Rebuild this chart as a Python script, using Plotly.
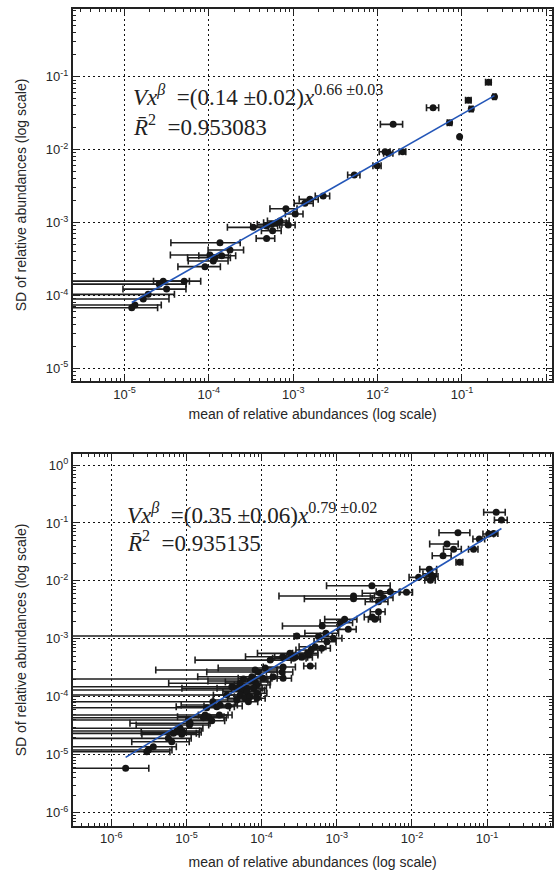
import plotly.graph_objects as go

# ---- panel 1: mean vs SD of relative abundances, with SE of the mean ----
top_mean = [0.2065, 0.243, 0.1194, 0.129, 0.0455, 0.0714, 0.0938, 0.0153, 0.01227, 0.01349,
            0.0198, 0.00991, 0.0053, 0.002265, 0.001578, 0.001377, 0.00082, 0.001057, 0.000336, 0.000484,
            0.000555, 0.000636, 0.000695, 0.000873, 0.00057, 0.000484, 0.0001355, 0.000178, 0.000103, 0.000142,
            0.000118, 0.000113, 0.00009, 2.88e-5, 2.58e-5, 5.11e-5, 3.16e-5, 1.91e-5, 1.67e-5, 1.33e-5,
            1.22e-5]
top_sd = [0.0838, 0.0532, 0.0474, 0.0361, 0.0376, 0.0234, 0.0150, 0.0222, 0.00936, 0.00889,
          0.00936, 0.00601, 0.00449, 0.002307, 0.00208, 0.001832, 0.001545, 0.00131, 0.000859, 0.000895,
          0.000944, 0.000993, 0.00105, 0.000925, 0.00077, 0.000606, 0.000528, 0.00042, 0.000358, 0.00035,
          0.000329, 0.000296, 0.000248, 0.000157, 0.000143, 0.000157, 0.000122, 0.0001035, 8.93e-5, 7.38e-5,
          6.78e-5]
top_err = [0.016, 0.010, 0.0090, 0.0068, 0.0075, 0.0044, 0.0012, 0.0045, 0.0018, 0.0017,
           0.0018, 0.0011, 0.00088, 0.00044, 0.00040, 0.00035, 0.00029, 0.00025, 0.00017, 0.00017,
           0.00018, 0.00019, 0.00020, 0.00018, 0.00015, 0.00012, 0.000100, 0.000080, 0.000068, 0.000066,
           0.000062, 0.000056, 0.000047, 3.0e-5, 2.8e-5, 2.9e-5, 2.2e-5, 2.0e-5, 1.7e-5, 1.4e-5,
           1.25e-5]
top_V, top_beta = 0.14, 0.66
top_fit_label = ["<i>Vx</i><sup><i>β</i></sup>  =(0.14 ±0.02)<i>x</i><sup>0.66 ±0.03</sup>",
                 "<i>R\u0304</i><sup>2</sup>  =0.953083"]

# ---- panel 2 ----
bottom_mean = [0.132, 0.155, 0.0409, 0.0787, 0.105, 0.122, 0.0292, 0.0358, 0.066, 0.0259,
               0.043, 0.0170, 0.01225, 0.0176, 0.019, 0.0176, 0.00845, 0.00514, 0.00378, 0.00293,
               0.00167, 0.00167, 0.00419, 0.00359, 0.00359, 0.00296, 0.00321, 0.00127, 0.00111, 0.000639,
               0.00142, 0.000716, 0.000294, 0.00057, 0.0009, 0.000738, 0.00063, 0.000515, 0.000443, 0.00042,
               0.000343, 0.000279, 0.00013, 0.000191, 0.000238, 0.000456, 0.000408, 0.000265,
               8.19e-5, 1.114e-4, 1.93e-4, 1.875e-4, 1.93e-4, 1.42e-4, 1.047e-4, 7.41e-5, 9.06e-5, 5.73e-5,
               7.03e-5, 5.18e-5, 8.19e-5, 8.63e-5, 4.01e-5, 4.67e-5, 6.35e-5, 5.44e-5, 6.35e-5, 7.78e-5,
               8.63e-5, 3.44e-5, 5.18e-5, 6.03e-5, 7.03e-5, 8.63e-5, 4.67e-5, 6.67e-5, 2.24e-5, 2.80e-5,
               3.61e-5, 1.86e-5, 2.53e-5, 1.77e-5, 1.96e-5, 2.74e-5, 2.17e-5, 1.68e-5, 1.06e-5, 1.117e-5,
               1.094e-5, 8.22e-6, 7.43e-6, 9.10e-6, 6.70e-6, 8.65e-6, 5.74e-6, 6.37e-6, 3.62e-6, 3.11e-6,
               2.96e-6, 1.55e-6]
bottom_sd = [0.1525, 0.112, 0.0679, 0.0528, 0.0645, 0.0655, 0.0433, 0.0351, 0.0351, 0.0272,
             0.0209, 0.01585, 0.01153, 0.0133, 0.0119, 0.0103, 0.00635, 0.00652, 0.00611, 0.00826,
             0.0055, 0.0049, 0.00513, 0.00438, 0.00294, 0.00238, 0.00217, 0.00217, 0.0019, 0.00167,
             0.00146, 0.00125, 0.00112, 0.0011, 0.00102, 0.00089, 0.000687, 0.00073, 0.00034, 0.000526,
             0.00048, 0.00048, 0.00043, 0.000492, 0.000563, 0.000642, 0.000563, 0.000461,
             2.90e-4, 3.14e-4, 3.27e-4, 2.68e-4, 2.09e-4, 2.22e-4, 2.09e-4, 2.22e-4, 2.68e-4, 2.03e-4,
             1.875e-4, 1.71e-4, 1.80e-4, 1.60e-4, 1.49e-4, 1.40e-4, 1.40e-4, 1.31e-4, 1.225e-4, 1.40e-4,
             1.15e-4, 1.074e-4, 1.074e-4, 9.42e-5, 1.004e-4, 9.42e-5, 8.81e-5, 8.23e-5, 8.23e-5, 7.22e-5,
             6.93e-5, 6.49e-5, 6.75e-5, 4.85e-5, 4.54e-5, 4.85e-5, 3.87e-5, 4.36e-5, 3.98e-5, 3.49e-5,
             3.26e-5, 2.86e-5, 2.57e-5, 2.44e-5, 2.34e-5, 2.25e-5, 1.92e-5, 1.68e-5, 1.377e-5, 1.208e-5,
             1.13e-5, 5.84e-6]
bottom_err = [0.042, 0.030, 0.018, 0.014, 0.017, 0.017, 0.012, 0.0095, 0.0095, 0.0073,
              0.0045, 0.0043, 0.0031, 0.0036, 0.0032, 0.0028, 0.0017, 0.0018, 0.0016, 0.0022,
              0.0015, 0.0013, 0.0014, 0.0012, 0.0008, 0.00064, 0.00058, 0.00058, 0.00051, 0.00045,
              0.00039, 0.00034, 0.00031, 0.0003, 0.00027, 0.00024, 0.00019, 0.0002, 0.00008, 0.00014,
              0.00013, 0.00013, 0.000117, 0.00013, 0.00015, 0.00017, 0.00015, 0.000125,
              7.8e-5, 8.5e-5, 8.8e-5, 7.2e-5, 5.6e-5, 6.0e-5, 5.6e-5, 6.0e-5, 7.2e-5, 6.0e-5,
              5.1e-5, 4.6e-5, 4.9e-5, 4.3e-5, 4.1e-5, 3.8e-5, 3.8e-5, 5.5e-5, 3.3e-5, 3.8e-5,
              3.1e-5, 3.5e-5, 2.9e-5, 2.5e-5, 2.7e-5, 2.5e-5, 2.4e-5, 2.2e-5, 2.3e-5, 1.95e-5,
              1.9e-5, 1.9e-5, 1.8e-5, 1.8e-5, 1.2e-5, 1.3e-5, 1.05e-5, 1.7e-5, 1.1e-5, 9.4e-6,
              8.8e-6, 8.3e-6, 7.5e-6, 6.6e-6, 6.8e-6, 6.1e-6, 5.8e-6, 4.5e-6, 3.7e-6, 3.3e-6,
              3.05e-6, 1.6e-6]
bottom_V, bottom_beta = 0.35, 0.79
bottom_fit_label = ["<i>Vx</i><sup><i>β</i></sup>  =(0.35 ±0.06)<i>x</i><sup>0.79 ±0.02</sup>",
                    "<i>R\u0304</i><sup>2</sup>  =0.935135"]

top_xticks = [-5, -4, -3, -2, -1, 0]
top_yticks = [-5, -4, -3, -2, -1]
bottom_xticks = [-6, -5, -4, -3, -2, -1]
bottom_yticks = [-6, -5, -4, -3, -2, -1, 0]

W, H = 554, 873
SANS = "Liberation Sans, Arial, sans-serif"
SERIF = "Liberation Serif, Times New Roman, serif"
INK = "#262626"
FIT_BLUE = "#2356b8"

fig = go.Figure()


def add_panel(mean, sd, err, V, beta, xa, ya):
    fig.add_trace(go.Scatter(
        x=mean, y=sd, mode="markers", xaxis=xa, yaxis=ya,
        marker=dict(color="#161616", size=7, line=dict(width=0)),
        error_x=dict(type="data", array=err, symmetric=True, color="#1e1e1e",
                     thickness=1.6, width=3.5),
        showlegend=False, hoverinfo="x+y"))
    lo, hi = min(mean), max(mean)
    fig.add_trace(go.Scatter(
        x=[lo, hi], y=[V * lo ** beta, V * hi ** beta], mode="lines",
        xaxis=xa, yaxis=ya, line=dict(color=FIT_BLUE, width=1.6),
        showlegend=False, hoverinfo="skip"))


add_panel(top_mean, top_sd, top_err, top_V, top_beta, "x", "y")
add_panel(bottom_mean, bottom_sd, bottom_err, bottom_V, bottom_beta, "x2", "y2")


def minor_vals(lo, hi):
    return [m * 10.0 ** d for d in range(lo, hi + 1) for m in range(2, 10)]


def log_axis(exps, rng, domain, anchor, minor_range, title, standoff):
    return dict(
        type="log", range=rng, domain=domain, anchor=anchor,
        tickmode="array", tickvals=[10.0 ** e for e in exps],
        ticktext=["10<sup>%d</sup>" % e for e in exps],
        ticks="inside", ticklen=6, tickwidth=1, tickcolor="#222",
        mirror="allticks", showline=True, linewidth=2, linecolor="#222",
        showgrid=True, gridcolor="#111", gridwidth=1, griddash="2px,3px",
        zeroline=False,
        minor=dict(tickmode="array", tickvals=minor_vals(*minor_range),
                   ticks="inside", ticklen=3, tickwidth=1, tickcolor="#222", showgrid=False),
        tickfont=dict(family=SANS, size=13, color=INK),
        title=dict(text=title, font=dict(family=SANS, size=14, color=INK), standoff=standoff),
    )


xdom = [73 / W, 552.3 / W]
xtitle = "mean of relative abundances (log scale)"
ytitle = "SD of relative abundances (log scale)"

fig.update_layout(
    width=W, height=H, margin=dict(l=0, r=0, t=0, b=0),
    paper_bgcolor="white", plot_bgcolor="white",
    xaxis=log_axis(top_xticks, [-5.61, 0.071], xdom, "y", (-6, 0), xtitle, 9),
    yaxis=log_axis(top_yticks, [-5.174, -0.071], [1 - 381 / H, 1 - 9 / H], "x", (-6, -1), ytitle, 16),
    xaxis2=log_axis(bottom_xticks, [-6.51, -0.133], xdom, "y2", (-7, -1), xtitle, 12),
    yaxis2=log_axis(bottom_yticks, [-6.224, 0.185], [1 - 825.7 / H, 1 - 454.3 / H], "x2", (-7, 0), ytitle, 16),
)

# fitted power-law labels
for lines, x0, ys in ((top_fit_label, 131 / W, (95, 126)),
                      (bottom_fit_label, 125 / W, (513, 541))):
    for text, yc in zip(lines, ys):
        fig.add_annotation(text=text, xref="paper", yref="paper", x=x0, y=1 - yc / H,
                           xanchor="left", yanchor="middle", showarrow=False,
                           font=dict(family=SERIF, size=23, color="#222"))

fig.write_html("out.html")
